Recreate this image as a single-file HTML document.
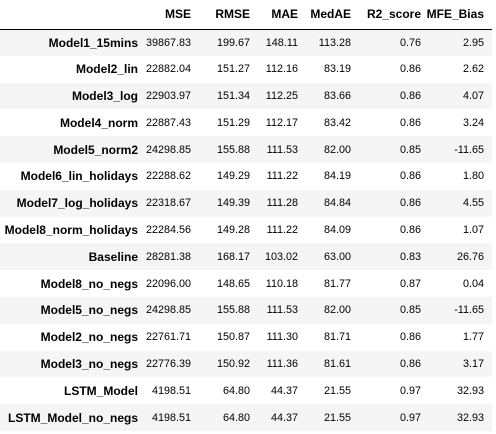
<!DOCTYPE html>
<html><head><meta charset="utf-8"><style>
body{margin:0;background:#fff;width:496px;height:434px;overflow:hidden;font-family:"Liberation Sans",Arial,sans-serif;font-size:12px;color:#000}
table{border-collapse:collapse;table-layout:fixed;width:492px;position:absolute;left:0;top:0}
td,th{padding:0;text-align:right;white-space:nowrap;overflow:visible}
td{font-size:10.8px}
thead tr{height:29px}
thead th{border-bottom:1px solid #000;font-weight:bold}
tbody tr{height:26.8px}
tbody tr:nth-child(odd){background:#f5f5f5}
tbody th{font-weight:bold}
</style></head><body>
<table>
<colgroup><col style="width:138px"><col style="width:53px"><col style="width:59px"><col style="width:48px"><col style="width:53px"><col style="width:70px"><col style="width:63px"><col style="width:8px"></colgroup>
<thead><tr><th></th><th>MSE</th><th>RMSE</th><th>MAE</th><th>MedAE</th><th>R2_score</th><th>MFE_Bias</th><th></th></tr></thead>
<tbody>
<tr><th>Model1_15mins</th><td>39867.83</td><td>199.67</td><td>148.11</td><td>113.28</td><td>0.76</td><td>2.95</td><td></td></tr>
<tr><th>Model2_lin</th><td>22882.04</td><td>151.27</td><td>112.16</td><td>83.19</td><td>0.86</td><td>2.62</td><td></td></tr>
<tr><th>Model3_log</th><td>22903.97</td><td>151.34</td><td>112.25</td><td>83.66</td><td>0.86</td><td>4.07</td><td></td></tr>
<tr><th>Model4_norm</th><td>22887.43</td><td>151.29</td><td>112.17</td><td>83.42</td><td>0.86</td><td>3.24</td><td></td></tr>
<tr><th>Model5_norm2</th><td>24298.85</td><td>155.88</td><td>111.53</td><td>82.00</td><td>0.85</td><td>-11.65</td><td></td></tr>
<tr><th>Model6_lin_holidays</th><td>22288.62</td><td>149.29</td><td>111.22</td><td>84.19</td><td>0.86</td><td>1.80</td><td></td></tr>
<tr><th>Model7_log_holidays</th><td>22318.67</td><td>149.39</td><td>111.28</td><td>84.84</td><td>0.86</td><td>4.55</td><td></td></tr>
<tr><th>Model8_norm_holidays</th><td>22284.56</td><td>149.28</td><td>111.22</td><td>84.09</td><td>0.86</td><td>1.07</td><td></td></tr>
<tr><th>Baseline</th><td>28281.38</td><td>168.17</td><td>103.02</td><td>63.00</td><td>0.83</td><td>26.76</td><td></td></tr>
<tr><th>Model8_no_negs</th><td>22096.00</td><td>148.65</td><td>110.18</td><td>81.77</td><td>0.87</td><td>0.04</td><td></td></tr>
<tr><th>Model5_no_negs</th><td>24298.85</td><td>155.88</td><td>111.53</td><td>82.00</td><td>0.85</td><td>-11.65</td><td></td></tr>
<tr><th>Model2_no_negs</th><td>22761.71</td><td>150.87</td><td>111.30</td><td>81.71</td><td>0.86</td><td>1.77</td><td></td></tr>
<tr><th>Model3_no_negs</th><td>22776.39</td><td>150.92</td><td>111.36</td><td>81.61</td><td>0.86</td><td>3.17</td><td></td></tr>
<tr><th>LSTM_Model</th><td>4198.51</td><td>64.80</td><td>44.37</td><td>21.55</td><td>0.97</td><td>32.93</td><td></td></tr>
<tr><th>LSTM_Model_no_negs</th><td>4198.51</td><td>64.80</td><td>44.37</td><td>21.55</td><td>0.97</td><td>32.93</td><td></td></tr>
</tbody></table>
</body></html>
